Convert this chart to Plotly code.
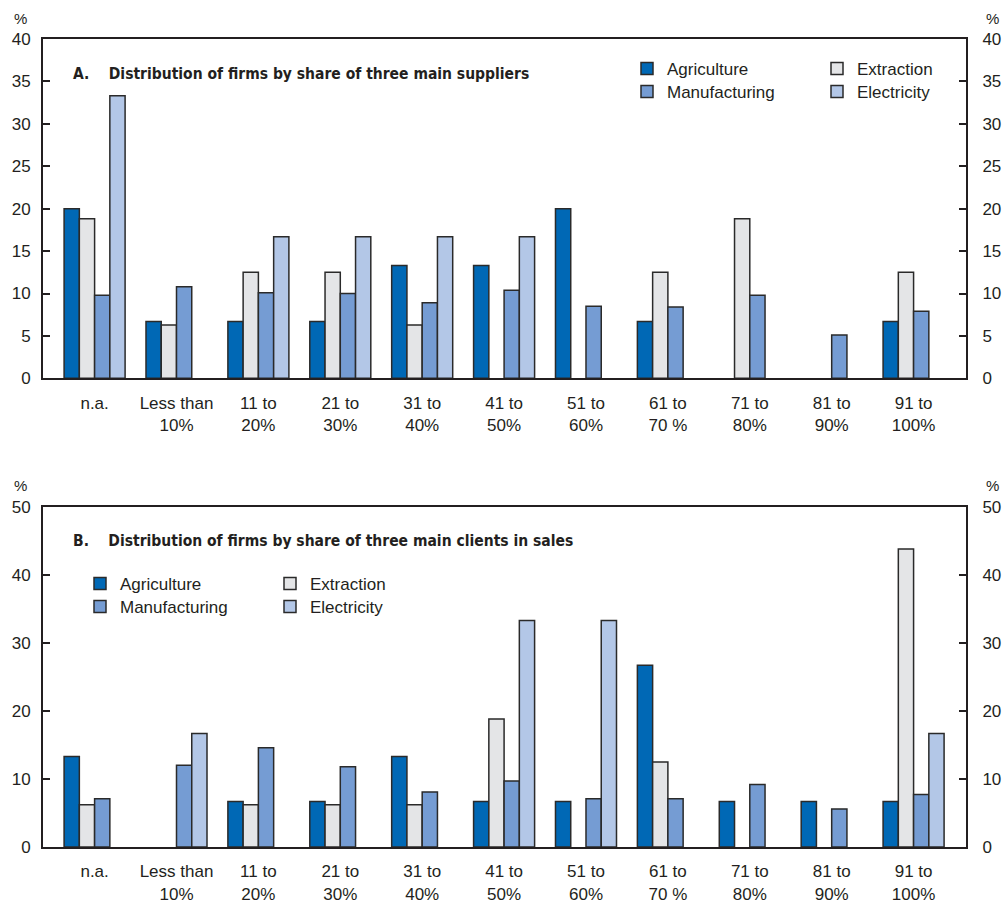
import plotly.graph_objects as go

categories = ["n.a.", "Less than<br>10%", "11 to<br>20%", "21 to<br>30%", "31 to<br>40%",
              "41 to<br>50%", "51 to<br>60%", "61 to<br>70 %", "71 to<br>80%", "81 to<br>90%",
              "91 to<br>100%"]

series_names = ["Agriculture", "Extraction", "Manufacturing", "Electricity"]

# Panel A: share of three main suppliers
a_agriculture = [20.0, 6.7, 6.7, 6.7, 13.3, 13.3, 20.0, 6.7, None, None, 6.7]
a_extraction = [18.8, 6.3, 12.5, 12.5, 6.3, None, None, 12.5, 18.8, None, 12.5]
a_manufacturing = [9.8, 10.8, 10.1, 10.0, 8.9, 10.4, 8.5, 8.4, 9.8, 5.1, 7.9]
a_electricity = [33.3, None, 16.7, 16.7, 16.7, 16.7, None, None, None, None, None]

# Panel B: share of three main clients in sales
b_agriculture = [13.3, None, 6.7, 6.7, 13.3, 6.7, 6.7, 26.7, 6.7, 6.7, 6.7]
b_extraction = [6.2, None, 6.2, 6.2, 6.2, 18.8, None, 12.5, None, None, 43.8]
b_manufacturing = [7.1, 12.0, 14.6, 11.8, 8.1, 9.7, 7.1, 7.1, 9.2, 5.6, 7.7]
b_electricity = [None, 16.7, None, None, None, 33.3, 33.3, None, None, None, 16.7]

a_ticks = [0, 5, 10, 15, 20, 25, 30, 35, 40]
b_ticks = [0, 10, 20, 30, 40, 50]

colors = ["#0068b5", "#e4e5e7", "#759cd3", "#b3c7e7"]
FONT = "Liberation Sans, Arial, sans-serif"
TEXT = "#231f20"

fig = go.Figure()

a_data = [a_agriculture, a_extraction, a_manufacturing, a_electricity]
b_data = [b_agriculture, b_extraction, b_manufacturing, b_electricity]
# legend rows: Agriculture/Extraction in first row, Manufacturing/Electricity in second
a_legends = ["legend", "legend", "legend2", "legend2"]
b_legends = ["legend3", "legend3", "legend4", "legend4"]

for name, vals, col, lg in zip(series_names, a_data, colors, a_legends):
    fig.add_trace(go.Bar(x=categories, y=vals, name=name,
                         marker=dict(color=col, line=dict(color="#2a2a2a", width=1.5)),
                         xaxis="x", yaxis="y", legend=lg))
for name, vals, col, lg in zip(series_names, b_data, colors, b_legends):
    fig.add_trace(go.Bar(x=categories, y=vals, name=name,
                         marker=dict(color=col, line=dict(color="#2a2a2a", width=1.5)),
                         xaxis="x2", yaxis="y2", legend=lg))

# invisible traces so the right-hand axes render
fig.add_trace(go.Scatter(x=[categories[0]], y=[None], xaxis="x", yaxis="y3", showlegend=False, hoverinfo="skip"))
fig.add_trace(go.Scatter(x=[categories[0]], y=[None], xaxis="x2", yaxis="y4", showlegend=False, hoverinfo="skip"))

ax_line = dict(showline=True, linecolor="#231f20", linewidth=2)
tickfont = dict(family=FONT, size=17, color=TEXT)
xr = [-0.63, 10.64]

xcommon = dict(type="category", range=xr, ticks="", showgrid=False, mirror=True, tickfont=tickfont,
               automargin=False, ticklabelstandoff=8, **ax_line)
ycommon = dict(showgrid=False, zeroline=False, ticks="inside", ticklen=7, tickwidth=1.5, tickcolor="#231f20",
               tickfont=tickfont, automargin=False, **ax_line)

legend_common = dict(orientation="h", xanchor="left", yanchor="middle", entrywidth=145, traceorder="normal",
                     font=dict(family=FONT, size=17, color=TEXT), bgcolor="rgba(0,0,0,0)")

def ypaper(px):
    return (847 - px) / 808

def xpaper(px):
    return (px - 43) / 923

fig.update_layout(
    width=1006, height=905,
    margin=dict(l=43, r=40, t=39, b=58, autoexpand=False),
    paper_bgcolor="white", plot_bgcolor="white",
    barmode="group", bargap=0.255, bargroupgap=0,
    font=dict(family=FONT, color=TEXT),
    xaxis=dict(domain=[0, 1], anchor="y", **xcommon),
    yaxis=dict(domain=[0.58, 1.0], anchor="x", range=[0, 40], tickvals=a_ticks, side="left",
               ticklabelstandoff=7, **ycommon),
    yaxis3=dict(anchor="x", overlaying="y", range=[0, 40], tickvals=a_ticks, side="right",
                ticklabelstandoff=11, **ycommon),
    xaxis2=dict(domain=[0, 1], anchor="y2", **xcommon),
    yaxis2=dict(domain=[0.0, 0.421], anchor="x2", range=[0, 50], tickvals=b_ticks, side="left",
                ticklabelstandoff=7, **ycommon),
    yaxis4=dict(anchor="x2", overlaying="y2", range=[0, 50], tickvals=b_ticks, side="right",
                ticklabelstandoff=11, **ycommon),
    legend=dict(x=xpaper(627), y=ypaper(69), **legend_common),
    legend2=dict(x=xpaper(627), y=ypaper(92), **legend_common),
    legend3=dict(x=xpaper(80), y=ypaper(584), **legend_common),
    legend4=dict(x=xpaper(80), y=ypaper(607), **legend_common),
    showlegend=True,
)

titlefont = dict(family="DejaVu Sans Condensed, Liberation Sans Narrow, sans-serif", size=15.5, color=TEXT)
fig.add_annotation(text="<b>A.\u00a0\u00a0\u00a0\u00a0Distribution of firms by share of three main suppliers</b>",
                   xref="paper", yref="paper", x=xpaper(71), y=ypaper(74), xanchor="left", yanchor="middle",
                   showarrow=False, font=titlefont)
fig.add_annotation(text="<b>B.\u00a0\u00a0\u00a0\u00a0Distribution of firms by share of three main clients in sales</b>",
                   xref="paper", yref="paper", x=xpaper(71), y=ypaper(541), xanchor="left", yanchor="middle",
                   showarrow=False, font=titlefont)

pctfont = dict(family=FONT, size=15, color=TEXT)
for ypx in (19, 485):
    for xpx in (20, 992):
        fig.add_annotation(text="%", xref="paper", yref="paper", x=xpaper(xpx), y=ypaper(ypx),
                           xanchor="center", yanchor="middle", showarrow=False, font=pctfont)

fig.write_html("out.html", config={"displayModeBar": False},
               post_script="document.body.style.margin='0';document.body.style.overflow='hidden';")
